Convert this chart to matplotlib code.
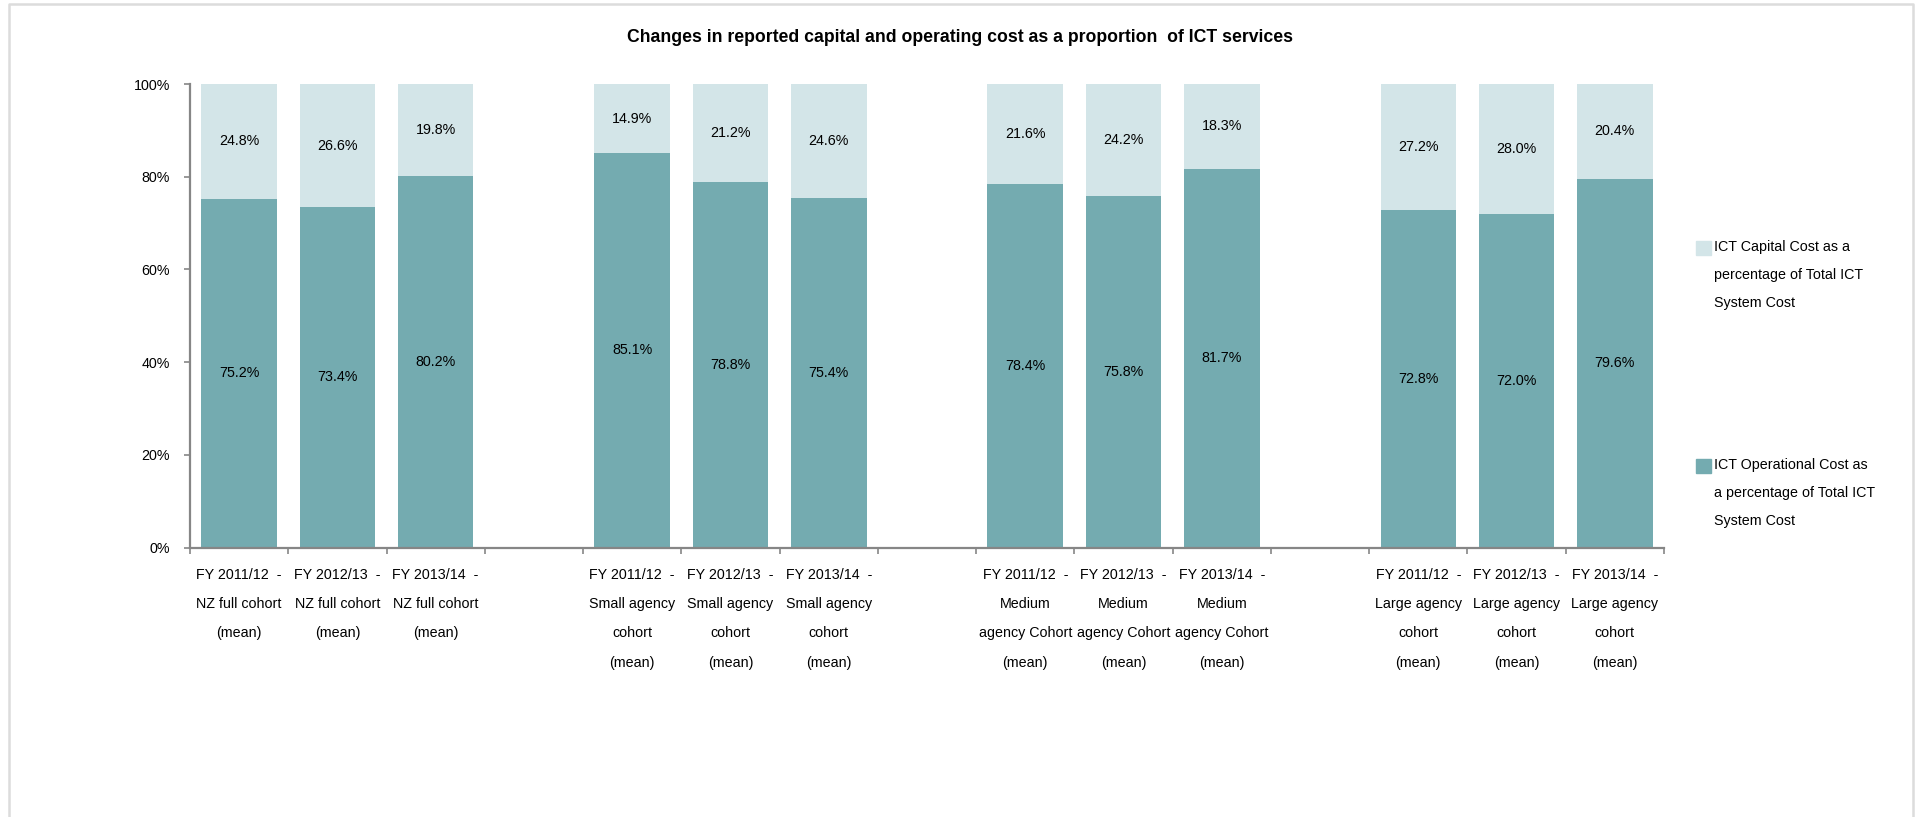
import numpy as np
import matplotlib
matplotlib.use("Agg")
import matplotlib.pyplot as plt
from matplotlib.lines import Line2D
from matplotlib.patches import Rectangle

plt.rcParams["font.family"] = ["Liberation Sans", "DejaVu Sans"]

# data: four cohorts x three financial years
years = ["FY 2011/12  -", "FY 2012/13  -", "FY 2013/14  -"]
cohorts = ["NZ full cohort\n(mean)",
           "Small agency\ncohort\n(mean)",
           "Medium\nagency Cohort\n(mean)",
           "Large agency\ncohort\n(mean)"]
operational = [75.2, 73.4, 80.2, 85.1, 78.8, 75.4, 78.4, 75.8, 81.7, 72.8, 72.0, 79.6]
capital = [24.8, 26.6, 19.8, 14.9, 21.2, 24.6, 21.6, 24.2, 18.3, 27.2, 28.0, 20.4]

OP_COLOR = "#74ABB0"
CAP_COLOR = "#D3E5E8"
AXIS_GRAY = "#868686"
FS = 10.3

# positions: 3 bars per cohort, one empty slot between cohorts
pos = [g * 4 + i for g in range(4) for i in range(3)]
labels = [y + "\n" + c for c in cohorts for y in years]

W, H = 1918, 817
fig = plt.figure(figsize=(W / 100, H / 100), dpi=100)
ax = fig.add_axes([190 / W, 1 - 547.5 / H, (1664 - 190) / W, (547.5 - 84) / H])

b1 = ax.bar(pos, operational, width=0.77, color=OP_COLOR, label="ICT Operational Cost")
b2 = ax.bar(pos, capital, width=0.77, bottom=operational, color=CAP_COLOR, label="ICT Capital Cost")
ax.bar_label(b1, labels=[f"{v:.1f}%" for v in operational], label_type="center", fontsize=FS)
ax.bar_label(b2, labels=[f"{v:.1f}%" for v in capital], label_type="center", fontsize=FS)

ax.set_xlim(-0.5, 14.5)
ax.set_ylim(0, 100)
ax.set_yticks(np.arange(0, 101, 20))
ax.set_yticklabels([f"{v}%" for v in range(0, 101, 20)], fontsize=FS)

# tick marks at slot boundaries, labels at bar centres
ax.set_xticks(np.arange(-0.5, 15, 1))
ax.set_xticklabels([])
ax.set_xticks(pos, minor=True)
ax.set_xticklabels(labels, minor=True, fontsize=FS, linespacing=2.37)
ax.tick_params(axis="x", which="major", length=4, color=AXIS_GRAY, width=1.2)
ax.tick_params(axis="x", which="minor", length=0, pad=15)
ax.tick_params(axis="y", length=4.5, color=AXIS_GRAY, width=1.2, pad=10)

for s in ["top", "right"]:
    ax.spines[s].set_visible(False)
for s in ["left", "bottom"]:
    ax.spines[s].set_color(AXIS_GRAY)
    ax.spines[s].set_linewidth(1.6)

fig.text(960 / W, 1 - 38 / H,
         "Changes in reported capital and operating cost as a proportion  of ICT services",
         ha="center", va="center", fontsize=12.7, fontweight="bold")

# legend drawn by hand so the two entries sit far apart
legend_items = [
    (CAP_COLOR, "ICT Capital Cost as a\npercentage of Total ICT\nSystem Cost", 241),
    (OP_COLOR, "ICT Operational Cost as\na percentage of Total ICT\nSystem Cost", 459),
]
for color, text, top in legend_items:
    fig.add_artist(Rectangle((1696 / W, 1 - (top + 14) / H), 15 / W, 14 / H,
                             transform=fig.transFigure, color=color))
    fig.text(1714 / W, 1 - (top - 1) / H, text, ha="left", va="top",
             fontsize=FS, linespacing=2.25)

# light outer frame
fig.add_artist(Line2D([9 / W, 9 / W, 1913 / W, 1913 / W], [0, 1 - 4 / H, 1 - 4 / H, 0],
                      transform=fig.transFigure, color="#DCDCDC", lw=1.8))

fig.savefig("out.png", dpi=100)
